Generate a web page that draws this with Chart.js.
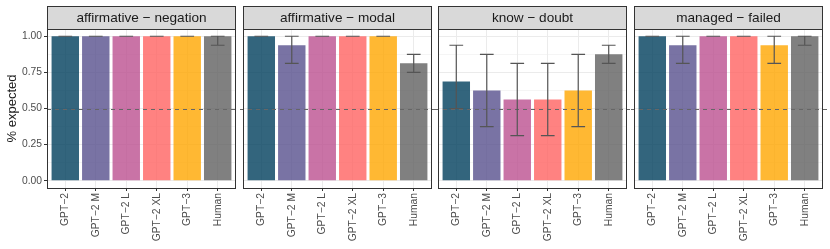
<!DOCTYPE html>
<html>
<head>
<meta charset="utf-8">
<script src="https://cdn.jsdelivr.net/npm/chart.js@4"></script>
<style>
  body { margin: 0; background: #fff; }
  #wrap { position: relative; width: 830px; height: 249px; background: #fff; }
  #wrap canvas { position: absolute; top: 0; }
</style>
</head>
<body>
<div id="wrap"></div>
<script>
// categories and facet names
const models = ['GPT\u22122', 'GPT\u22122 M', 'GPT\u22122 L', 'GPT\u22122 XL', 'GPT\u22123', 'Human'];
const facets = ['affirmative \u2212 negation', 'affirmative \u2212 modal', 'know \u2212 doubt', 'managed \u2212 failed'];

// % expected, with lower / upper error bar ends
const negationMean = [1, 1, 1, 1, 1, 1];
const negationLo   = [1, 1, 1, 1, 1, 0.9375];
const negationHi   = [1, 1, 1, 1, 1, 1];

const modalMean = [1, 0.9375, 1, 1, 1, 0.8125];
const modalLo   = [1, 0.8125, 1, 1, 1, 0.75];
const modalHi   = [1, 1, 1, 1, 1, 0.875];

const doubtMean = [0.6875, 0.625, 0.5625, 0.5625, 0.625, 0.875];
const doubtLo   = [0.5, 0.375, 0.3125, 0.3125, 0.375, 0.8125];
const doubtHi   = [0.9375, 0.875, 0.8125, 0.8125, 0.875, 0.9375];

const failedMean = [1, 0.9375, 1, 1, 0.9375, 1];
const failedLo   = [1, 0.8125, 1, 1, 0.8125, 0.9375];
const failedHi   = [1, 1, 1, 1, 1, 1];

const yTicks = [0, 0.25, 0.5, 0.75, 1];
const chanceLevel = 0.5;

const barColors = ['rgba(0,63,92,0.8)', 'rgba(88,80,141,0.8)', 'rgba(188,80,144,0.8)',
                   'rgba(255,99,97,0.8)', 'rgba(255,166,0,0.8)', 'rgba(96,96,96,0.8)'];

const panels = [
  { title: facets[0], mean: negationMean, lo: negationLo, hi: negationHi },
  { title: facets[1], mean: modalMean, lo: modalLo, hi: modalHi },
  { title: facets[2], mean: doubtMean, lo: doubtLo, hi: doubtHi },
  { title: facets[3], mean: failedMean, lo: failedLo, hi: failedHi }
];

const FONT = '"Liberation Sans", Arial, Helvetica, sans-serif';
const wrap = document.getElementById('wrap');

panels.forEach((p, i) => {
  const panelLeft = 47 + i * 195.67;
  const panelW = 189;
  const first = i === 0;
  const last = i === panels.length - 1;
  const cvLeft = first ? 0 : Math.round(panelLeft) - 3;
  const cvRight = last ? 830 : Math.round(panelLeft + panelW) + 3;
  const padLeft = first ? 0 : Math.round(panelLeft) - cvLeft;

  const cv = document.createElement('canvas');
  cv.width = cvRight - cvLeft;
  cv.height = 249;
  cv.style.left = cvLeft + 'px';
  wrap.appendChild(cv);

  const facetDecor = {
    id: 'facetDecor',
    beforeDatasetsDraw(chart) {
      const { ctx, chartArea: a } = chart;
      // strip
      ctx.save();
      ctx.fillStyle = '#d9d9d9';
      ctx.fillRect(a.left, 6, a.right - a.left, a.top - 6);
      ctx.strokeStyle = '#333333';
      ctx.lineWidth = 1;
      ctx.strokeRect(a.left + 0.5, 6.5, a.right - a.left - 1, a.top - 6);
      ctx.fillStyle = '#1a1a1a';
      ctx.font = '13.6px ' + FONT;
      ctx.textAlign = 'center';
      ctx.textBaseline = 'middle';
      ctx.fillText(p.title, (a.left + a.right) / 2, (6 + a.top) / 2 + 1);
      ctx.restore();
    },
    afterDatasetsDraw(chart) {
      const { ctx, chartArea: a, scales: { x, y } } = chart;
      ctx.save();
      // reference line
      const yc = Math.round(y.getPixelForValue(chanceLevel)) + 0.5;
      ctx.strokeStyle = '#666666';
      ctx.lineWidth = 1.2;
      ctx.setLineDash([4, 4]);
      ctx.beginPath();
      ctx.moveTo(first ? a.left : 0, yc);
      ctx.lineTo(chart.width, yc);
      ctx.stroke();
      ctx.setLineDash([]);
      // error bars
      ctx.strokeStyle = '#555555';
      ctx.lineWidth = 1.2;
      const half = x.getPixelForValue(1.225) - x.getPixelForValue(1);
      p.lo.forEach((lo, k) => {
        const px = x.getPixelForValue(k + 1);
        const yl = y.getPixelForValue(lo);
        const yh = y.getPixelForValue(p.hi[k]);
        ctx.beginPath();
        ctx.moveTo(px - half, yh); ctx.lineTo(px + half, yh);
        ctx.moveTo(px - half, yl); ctx.lineTo(px + half, yl);
        ctx.moveTo(px, yh); ctx.lineTo(px, yl);
        ctx.stroke();
      });
      // panel border
      ctx.strokeStyle = '#333333';
      ctx.lineWidth = 1;
      ctx.strokeRect(a.left + 0.5, a.top + 0.5, a.right - a.left - 1, a.bottom - a.top);
      ctx.restore();
    }
  };

  new Chart(cv, {
    type: 'bar',
    data: {
      datasets: [{
        data: p.mean.map((v, k) => ({ x: k + 1, y: v })),
        backgroundColor: barColors,
        borderWidth: 0,
        barPercentage: 0.9,
        categoryPercentage: 1
      }]
    },
    options: {
      responsive: false,
      animation: false,
      layout: { padding: { left: padLeft, right: cv.width - padLeft - panelW - (first ? 47 : 0), top: 29, bottom: 0 } },
      plugins: { legend: { display: false }, tooltip: { enabled: false } },
      scales: {
        x: {
          type: 'linear',
          min: 0.4,
          max: 6.6,
          offset: false,
          afterBuildTicks: s => { s.ticks = models.map((m, k) => ({ value: k + 1 })); },
          afterFit: s => { s.height = 249 - 188; },
          border: { display: false },
          grid: { offset: false, color: '#ebebeb', lineWidth: 1, tickColor: '#333333', tickLength: 3, drawTicks: true },
          ticks: {
            callback: v => models[v - 1],
            minRotation: 90,
            maxRotation: 90,
            autoSkip: false,
            padding: 2,
            color: '#4d4d4d',
            font: { family: FONT, size: 10.3 }
          }
        },
        y: {
          min: -0.05,
          max: 1.05,
          afterBuildTicks: s => {
            const t = [];
            for (let v = 0; v <= 1.0001; v += 0.125) t.push({ value: v });
            s.ticks = t;
          },
          afterFit: s => { s.width = first ? 47 : 0; },
          border: { display: false },
          grid: {
            color: '#ebebeb',
            lineWidth: c => yTicks.includes(c.tick.value) ? 1 : 0.5,
            drawTicks: first,
            tickLength: 3,
            tickColor: c => yTicks.includes(c.tick.value) ? '#333333' : 'rgba(0,0,0,0)'
          },
          ticks: {
            display: first,
            callback: v => yTicks.includes(v) ? v.toFixed(2) : '',
            padding: 2,
            color: '#4d4d4d',
            font: { family: FONT, size: 10.3 }
          },
          title: {
            display: first,
            text: '% expected',
            color: '#1a1a1a',
            font: { family: FONT, size: 13 },
            padding: { top: 5, bottom: 0 }
          }
        }
      }
    },
    plugins: [facetDecor]
  });
});
</script>
</body>
</html>
